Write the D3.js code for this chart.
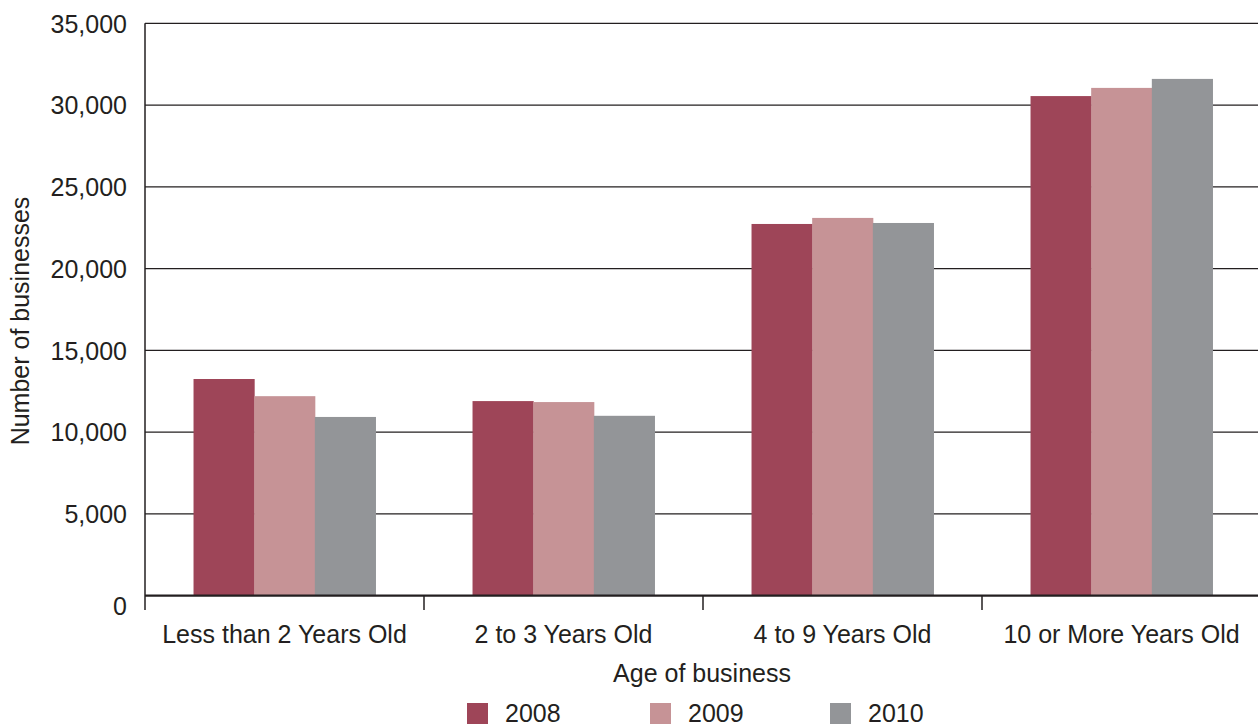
<!DOCTYPE html>
<html>
<head>
<meta charset="utf-8">
<script src="https://cdn.jsdelivr.net/npm/d3@7"></script>
<style>
  html, body { margin: 0; padding: 0; background: #fff; }
  svg text { font-family: "Liberation Sans", Arial, Helvetica, sans-serif; fill: #231f20; }
</style>
</head>
<body>
<svg id="chart" width="1258" height="727"></svg>
<script>
// Business counts by age of business, 2008–2010
const categories = ["Less than 2 Years Old", "2 to 3 Years Old", "4 to 9 Years Old", "10 or More Years Old"];
const years = ["2008", "2009", "2010"];
const values2008 = [13250, 11900, 22730, 30550];
const values2009 = [12200, 11840, 23100, 31050];
const values2010 = [10930, 11000, 22790, 31600];
const yTicks = [0, 5000, 10000, 15000, 20000, 25000, 30000, 35000];
const colors = ["#9e4558", "#c69396", "#939598"];

const seriesValues = [values2008, values2009, values2010];
const rows = categories.map((c, i) => ({
  category: c,
  bars: years.map((y, j) => ({ year: y, value: seriesValues[j][i] }))
}));

const svg = d3.select("#chart");
const plotLeft = 145, plotRight = 1261, plotTop = 23.3, plotBottom = 595.7;
const fontSize = 25;

const x0 = d3.scaleBand().domain(categories).range([plotLeft, plotRight]).paddingInner(0).paddingOuter(0);
const x1 = d3.scaleBand().domain(years).range([0, x0.bandwidth()]).paddingInner(0).paddingOuter(0.8);
const y = d3.scaleLinear().domain([0, 35000]).range([plotBottom, plotTop]);

// horizontal gridlines
svg.append("g")
  .selectAll("line")
  .data(yTicks.filter(d => d > 0))
  .join("line")
  .attr("x1", plotLeft).attr("x2", 1258)
  .attr("y1", d => y(d)).attr("y2", d => y(d))
  .attr("stroke", "#231f20").attr("stroke-width", 1.2);

// bars
const groups = svg.append("g")
  .selectAll("g")
  .data(rows)
  .join("g")
  .attr("transform", d => `translate(${x0(d.category)},0)`);

groups.selectAll("rect")
  .data(d => d.bars)
  .join("rect")
  .attr("x", d => x1(d.year))
  .attr("width", x1.bandwidth() + 0.5)
  .attr("y", d => y(d.value))
  .attr("height", d => y(0) - y(d.value))
  .attr("fill", (d, i) => colors[i]);

// y axis
const yAxis = svg.append("g")
  .attr("transform", `translate(${plotLeft},0)`)
  .call(d3.axisLeft(y).tickValues(yTicks).tickFormat(d3.format(",")).tickSize(0).tickPadding(18));
yAxis.select(".domain").remove();
yAxis.selectAll("text")
  .attr("font-size", fontSize)
  .attr("fill", "#231f20")
  .attr("dy", d => d === 0 ? "0.76em" : "0.35em")
  .style("font-family", '"Liberation Sans", Arial, sans-serif');
svg.append("line")
  .attr("x1", plotLeft).attr("x2", plotLeft)
  .attr("y1", plotTop).attr("y2", 610)
  .attr("stroke", "#231f20").attr("stroke-width", 1.5);

// x axis with category tick marks between groups
svg.append("line")
  .attr("x1", plotLeft).attr("x2", 1258)
  .attr("y1", plotBottom).attr("y2", plotBottom)
  .attr("stroke", "#231f20").attr("stroke-width", 2.2);
svg.append("g")
  .selectAll("line")
  .data(categories.slice(1))
  .join("line")
  .attr("x1", d => x0(d)).attr("x2", d => x0(d))
  .attr("y1", plotBottom).attr("y2", 610)
  .attr("stroke", "#231f20").attr("stroke-width", 1.5);

svg.append("g")
  .selectAll("text")
  .data(categories)
  .join("text")
  .attr("x", d => x0(d) + x0.bandwidth() / 2)
  .attr("y", 643)
  .attr("text-anchor", "middle")
  .attr("font-size", fontSize)
  .text(d => d);

// axis titles
svg.append("text")
  .attr("x", 702).attr("y", 682)
  .attr("text-anchor", "middle")
  .attr("font-size", fontSize)
  .text("Age of business");

svg.append("text")
  .attr("transform", "translate(29,321) rotate(-90)")
  .attr("text-anchor", "middle")
  .attr("font-size", fontSize)
  .text("Number of businesses");

// legend
const legendX = [467, 650, 830];
const legend = svg.append("g")
  .selectAll("g")
  .data(years)
  .join("g")
  .attr("transform", (d, i) => `translate(${legendX[i]},703)`);
legend.append("rect")
  .attr("width", 21).attr("height", 21)
  .attr("fill", (d, i) => colors[i]);
legend.append("text")
  .attr("x", 38).attr("y", 19)
  .attr("font-size", fontSize)
  .text(d => d);
</script>
</body>
</html>
